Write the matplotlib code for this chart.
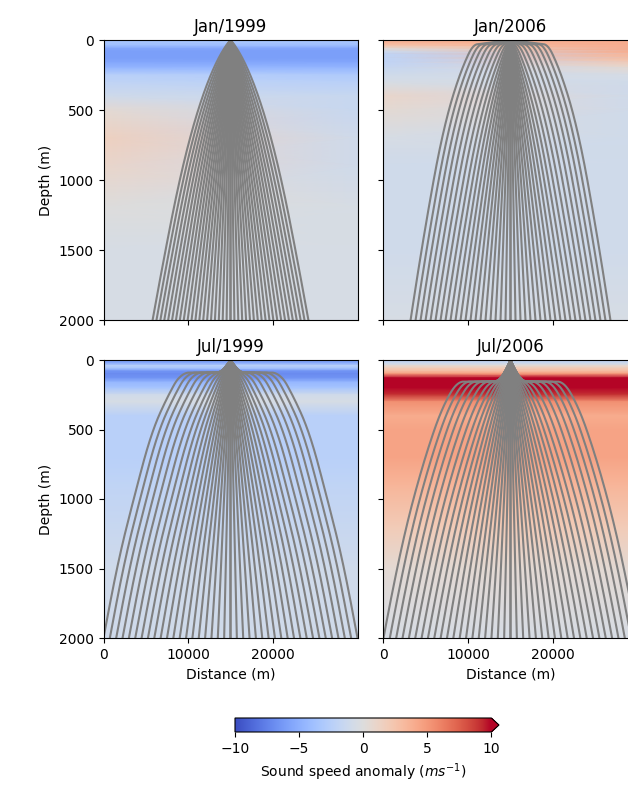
import numpy as np
import matplotlib
matplotlib.use('Agg')
import matplotlib.pyplot as plt
from matplotlib.colors import Normalize
from matplotlib.cm import ScalarMappable

# data ==========================================================================
titles = ['Jan/1999', 'Jan/2006', 'Jul/1999', 'Jul/2006']

# sound speed anomaly (m/s) at the west (x=0) and east (x=30 km) edge of the section
depth = [0, 20, 40, 60, 80, 100, 130, 160, 200, 250, 300, 400, 500, 700, 900, 1200, 1500, 2000]
jan99_w = [-3.5, -3.5, -4.0, -5.5, -6.0, -6.0, -6.0, -5.5, -4.5, -2.5, -2.0, -1.0, 0.5, 1.5, 1.0, 0.0, -0.5, -0.5]
jan99_e = [-3.5, -3.5, -4.0, -5.5, -6.0, -6.0, -6.0, -5.5, -4.5, -3.0, -2.5, -1.5, -1.5, -1.0, -1.0, -0.5, -0.5, -0.5]
jan06_w = [3.5, 3.5, 2.5, 0.5, -1.0, -2.0, -2.0, -2.0, -1.5, -1.0, -0.5, 1.0, 0.5, -0.5, -1.0, -1.0, -1.0, -0.5]
jan06_e = [4.0, 4.0, 4.0, 4.0, 4.0, 3.5, 3.0, 2.0, 0.5, -0.5, -1.0, -1.0, -1.0, -1.0, -1.0, -1.0, -1.0, -0.5]
jul99 = [-6.0, -5.5, -2.5, -3.5, -6.5, -7.0, -6.5, -4.5, -3.5, -1.0, -0.5, -2.5, -2.5, -2.5, -2.0, -1.5, -1.0, -1.0]
jul06 = [-2.0, -1.5, 0.5, 2.0, 3.0, 5.0, 10.5, 11.0, 11.0, 9.0, 5.5, 4.0, 4.5, 4.5, 3.5, 2.0, 0.5, -0.5]
anomaly_w = [jan99_w, jan06_w, jul99, jul06]
anomaly_e = [jan99_e, jan06_e, jul99, jul06]

# relative sound speed profile used to trace the rays
ray_depth = [
    [0, 50, 215, 570, 1290, 2000],
    [0, 30, 100, 400, 1000, 2000],
    [0, 50, 90, 130, 180, 380, 750, 1200, 1700, 2000],
    [0, 100, 155, 230, 500, 1000, 1500, 2000],
]
ray_c = [
    [1.0, 0.998, 0.993, 0.982, 0.958, 0.950],
    [1.0, 1.0, 0.992, 0.981, 0.949, 0.928],
    [0.996, 0.997, 1.0, 0.998, 0.994, 0.991, 0.975, 0.972, 0.954, 0.950],
    [0.99, 0.995, 1.0, 0.995, 0.985, 0.975, 0.960, 0.950],
]
fan_halfwidth = [9200, 11800, 15000, 15000]   # half-width of the ray fan at 2000 m
n_rays = 41
source_x = 15000


def trace_rays(zn, cn, halfwidth):
    z = np.linspace(0, 2000, 2001)
    n = np.interp(z, zn, cn)
    n = n / n.max()
    u = np.linspace(-12, 0, 2000)      # log10(1 - s)
    s = 1 - 10 ** u
    sin = s[:, None] * n[None, :]
    tan = sin / np.sqrt(1 - sin ** 2)
    xb = np.trapezoid(tan, z, axis=1)
    # xb decreases with u
    targets = np.linspace(0, halfwidth, n_rays // 2 + 1)
    u_t = np.interp(targets, xb[::-1], u[::-1])
    s_t = 1 - 10 ** u_t
    s_t[0] = 0.0
    paths = []
    for si in s_t:
        sn = si * n
        t = sn / np.sqrt(1 - sn ** 2)
        x = np.concatenate([[0], np.cumsum(0.5 * (t[1:] + t[:-1]) * np.diff(z))])
        paths.append(x)
    return z, paths


# figure ========================================================================
W, H = 628, 793
fig = plt.figure(figsize=(W / 100, H / 100), dpi=100)


def pos(l, t, w, h):
    return [l / W, 1 - (t + h) / H, w / W, h / H]


boxes = [pos(103.5, 40, 254, 280), pos(383.5, 40, 254, 280),
         pos(103.5, 360, 254, 278), pos(383.5, 360, 254, 278)]

norm = Normalize(-10, 10)
cmap = plt.cm.coolwarm
xs = [0, 30000]

for i in range(4):
    ax = fig.add_axes(boxes[i])
    C = np.column_stack([anomaly_w[i], anomaly_e[i]])
    ax.pcolormesh(xs, depth, C, shading='gouraud', cmap=cmap, norm=norm)
    z, paths = trace_rays(ray_depth[i], ray_c[i], fan_halfwidth[i])
    for x in paths:
        ax.plot(source_x - x, z, color='gray', lw=1.5)
        ax.plot(source_x + x, z, color='gray', lw=1.5)
    ax.set_xlim(0, 30000)
    ax.set_ylim(2000, 0)
    ax.set_xticks([0, 10000, 20000])
    ax.set_yticks([0, 500, 1000, 1500, 2000])
    ax.set_title(titles[i], fontsize=12)
    if i < 2:
        ax.set_xticklabels([])
    else:
        ax.set_xlabel('Distance (m)')
    if i % 2 == 1:
        ax.set_yticklabels([])
    else:
        ax.set_ylabel('Depth (m)')

cax = fig.add_axes(pos(235, 718, 264, 14))
sm = ScalarMappable(norm=norm, cmap=cmap)
cb = fig.colorbar(sm, cax=cax, orientation='horizontal', extend='max', extendfrac=0.03)
cb.set_ticks([-10, -5, 0, 5, 10])
cb.set_label('Sound speed anomaly ($ms^{-1}$)')

fig.savefig('out.png', dpi=100)
